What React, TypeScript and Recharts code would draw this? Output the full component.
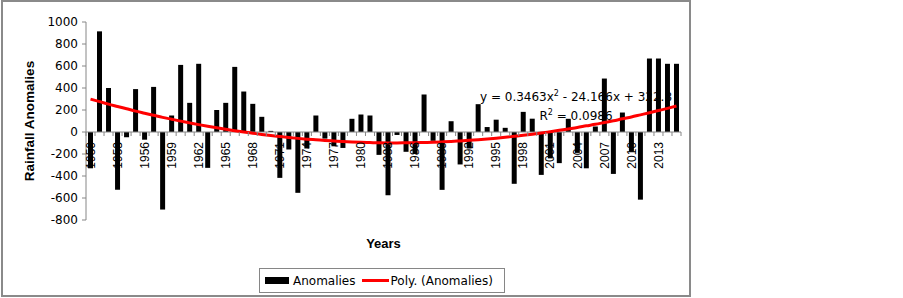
import React from "react";
import { ComposedChart, Bar, Line, XAxis, YAxis, ReferenceLine, Legend, Label } from "recharts";

const years = [
  "1950", "1951", "1952", "1953", "1954", "1955", "1956", "1957", "1958", "1959",
  "1960", "1961", "1962", "1963", "1964", "1965", "1966", "1967", "1968", "1969",
  "1970", "1971", "1972", "1973", "1974", "1975", "1976", "1977", "1978", "1979",
  "1980", "1981", "1982", "1983", "1984", "1985", "1986", "1987", "1988", "1989",
  "1990", "1991", "1992", "1993", "1994", "1995", "1996", "1997", "1998", "1999",
  "2000", "2001", "2002", "2003", "2004", "2005", "2006", "2007", "2008", "2009",
  "2010", "2011", "2012", "2013", "2014", "2015",
];

const anomalies = [
  -330, 915, 400, -525, -48, 390, -70, 410, -705, 150,
  610, 265, 620, -326, 200, 265, 592, 368, 256, 138,
  10, -417, -159, -553, -150, 150, -60, -130, -145, 120,
  159, 150, -208, -575, -27, -180, -200, 341, -80, -526,
  98, -295, -150, 253, 45, 112, 38, -471, 183, 121,
  -390, -240, -283, 120, -190, -330, 50, 486, -381, 177,
  -180, -615, 668, 668, 620, 620,
];

// Poly. (Anomalies) trendline, y = 0.3463x^2 - 24.166x + 322.8
const polyTrend = [
  299, 276, 253, 232, 211, 190, 171, 152, 133, 116,
  99, 83, 67, 52, 38, 25, 12, 0, -11, -22,
  -32, -41, -50, -58, -65, -71, -77, -82, -87, -91,
  -94, -96, -98, -99, -99, -98, -97, -95, -93, -90,
  -86, -81, -76, -70, -63, -56, -48, -39, -30, -20,
  -9, 3, 15, 28, 41, 56, 70, 86, 102, 120,
  137, 156, 175, 195, 215, 236,
];

const yTicks = [-800, -600, -400, -200, 0, 200, 400, 600, 800, 1000];
const Y_MIN = -800;
const Y_MAX = 1000;

const data = years.map((year, i) => ({ year, anomalies: anomalies[i], trend: polyTrend[i] }));

const CHART_W = 690;
const CHART_H = 296;
const AXIS_W = 86;
const MARGIN = { top: 22, right: 9, bottom: 21, left: 0 };
const PLOT_W = CHART_W - AXIS_W - MARGIN.right - MARGIN.left;
const PLOT_H = 198;
const GRAY = "#868686";
const WIDE_FONT = "'DejaVu Sans', sans-serif";
const ARIAL = "'Liberation Sans', Arial, sans-serif";

const XTick = (props: any) => {
  const { x, payload } = props;
  const index = typeof props.index === "number" ? props.index : years.indexOf(payload.value);
  const band = PLOT_W / years.length;
  const zeroY = MARGIN.top + (PLOT_H * Y_MAX) / (Y_MAX - Y_MIN);
  return (
    <g>
      <line x1={x - band / 2} x2={x - band / 2} y1={zeroY} y2={zeroY + 4} stroke={GRAY} />
      {index === years.length - 1 && (
        <line x1={x + band / 2} x2={x + band / 2} y1={zeroY} y2={zeroY + 4} stroke={GRAY} />
      )}
      {index % 3 === 0 && (
        <text
          transform={`translate(${x},${zeroY + 10}) rotate(-90)`}
          textAnchor="end"
          dy="0.35em"
          fontSize={12}
          fontFamily={ARIAL}
          fill="#000"
        >
          {payload.value}
        </text>
      )}
    </g>
  );
};

const YLabel = (props: any) => {
  const vb = props.viewBox || { x: 0, y: 0, height: 0 };
  const cx = vb.x + 34;
  const cy = vb.y + vb.height / 2;
  return (
    <text
      transform={`translate(${cx},${cy}) rotate(-90)`}
      textAnchor="middle"
      fontSize={13.5}
      fontWeight="bold"
      fontFamily={ARIAL}
      fill="#000"
    >
      Rainfall Anomalies
    </text>
  );
};

const LegendBox = () => (
  <div
    style={{
      boxSizing: "border-box",
      width: 246,
      height: 25,
      border: `1px solid ${GRAY}`,
      background: "#fff",
      display: "flex",
      alignItems: "center",
      paddingLeft: 5,
      fontFamily: WIDE_FONT,
      fontSize: 12,
      color: "#000",
    }}
  >
    <span style={{ display: "inline-block", width: 24, height: 7, background: "#000", marginRight: 4 }} />
    <span>Anomalies</span>
    <span style={{ display: "inline-block", width: 27, height: 3, background: "#ff0000", marginLeft: 6, marginRight: 2 }} />
    <span>Poly. (Anomalies)</span>
  </div>
);

export default function App() {
  return (
    <div style={{ position: "absolute", left: 0, top: 0, width: 903, height: 298, background: "#fff" }}>
      <div
        style={{
          position: "absolute",
          left: 1,
          top: 0,
          width: 690,
          height: 297,
          boxSizing: "border-box",
          border: "2px solid #8a8a8a",
        }}
      />
      <div style={{ position: "absolute", left: 0, top: 0 }}>
        <ComposedChart width={CHART_W} height={CHART_H} data={data} margin={MARGIN} barSize={5}>
          <XAxis
            dataKey="year"
            interval={0}
            axisLine={false}
            tickLine={false}
            height={30}
            tick={<XTick />}
          >
            <Label
              value="Years"
              position="insideBottom"
              offset={2}
              fontSize={13}
              fontWeight="bold"
              fontFamily={ARIAL}
              fill="#000"
            />
          </XAxis>
          <YAxis
            width={AXIS_W}
            domain={[Y_MIN, Y_MAX]}
            ticks={yTicks}
            interval={0}
            allowDataOverflow
            axisLine={{ stroke: GRAY }}
            tickLine={{ stroke: GRAY }}
            tickSize={4}
            tickMargin={4}
            tick={{ fill: "#000", fontSize: 12, fontFamily: WIDE_FONT }}
            label={<YLabel />}
          />
          <ReferenceLine y={0} stroke={GRAY} />
          <Bar dataKey="anomalies" name="Anomalies" fill="#000" isAnimationActive={false} />
          <Line
            dataKey="trend"
            name="Poly. (Anomalies)"
            type="monotone"
            stroke="#ff0000"
            strokeWidth={3}
            dot={false}
            isAnimationActive={false}
          />
          <Legend
            verticalAlign="bottom"
            wrapperStyle={{ left: 259, top: 268, width: 246, height: 25 }}
            content={() => <LegendBox />}
          />
        </ComposedChart>
      </div>
      <div
        style={{
          position: "absolute",
          left: 476,
          top: 88,
          width: 200,
          textAlign: "center",
          fontFamily: WIDE_FONT,
          fontSize: 12,
          lineHeight: "19px",
          color: "#000",
        }}
      >
        <div>
          y = 0.3463x<span style={{ fontSize: 8, verticalAlign: "super", lineHeight: 0 }}>2</span> - 24.166x + 322.8
        </div>
        <div>
          R<span style={{ fontSize: 8, verticalAlign: "super", lineHeight: 0 }}>2</span> = 0.0986
        </div>
      </div>
    </div>
  );
}
